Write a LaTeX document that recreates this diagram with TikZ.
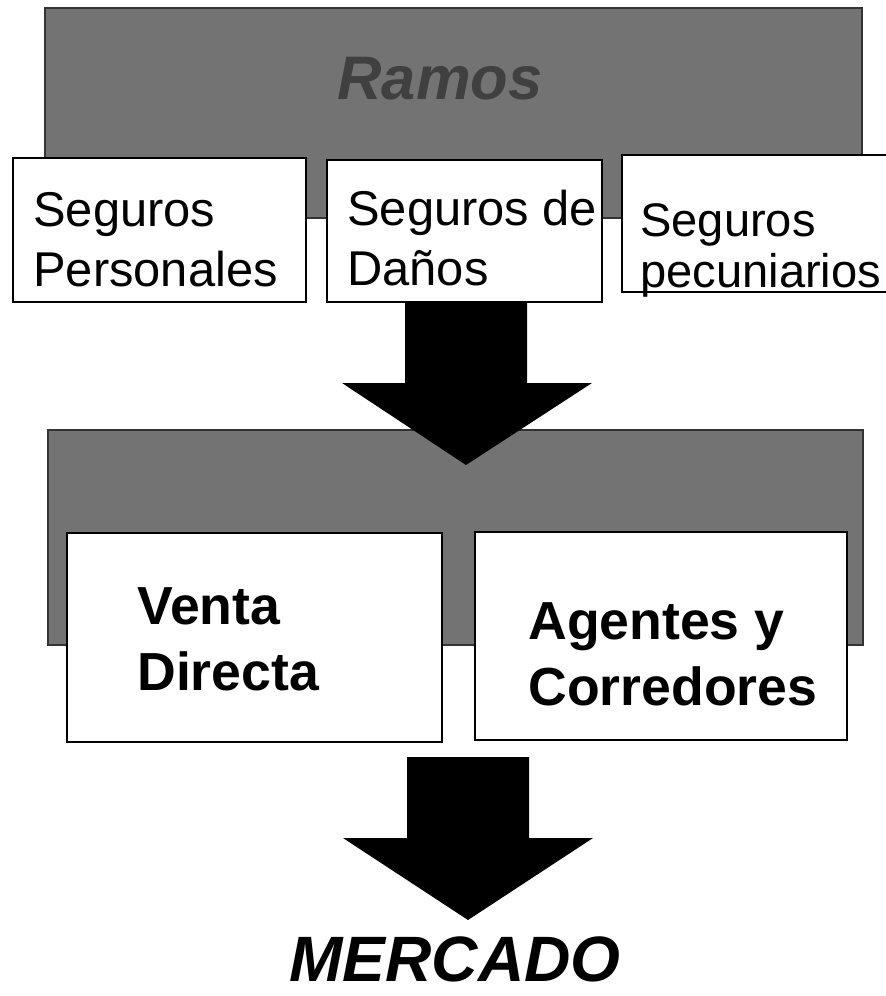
\documentclass[tikz,border=0pt]{standalone}
\usepackage{fontspec}
\setmainfont{Liberation Sans}
\usetikzlibrary{calc, fit}
\tikzstyle{banda} = [
    rectangle,
    inner sep=0pt,
    fill=black!55,
    draw=black!80,
    line width=1pt
]
\tikzstyle{caja} = [
    rectangle,
    inner sep=0pt,
    draw=black,
    fill=white,
    line width=1.3pt
]
\tikzstyle{ramo} = [
    inner sep=0pt,
    anchor=north west,
    align=left,
    font=\fontsize{27.8}{34}\selectfont
]
\tikzstyle{canal} = [
    inner sep=0pt,
    anchor=north west,
    align=left,
    font=\fontsize{30.5}{38}\selectfont\bfseries
]
\tikzstyle{titulo} = [
    inner sep=0pt,
    anchor=base,
    font=\bfseries\itshape
]
\tikzstyle{flecha} = [fill=black]

\begin{document}
\begin{tikzpicture}[x=0.02cm, y=-0.02cm]
    \useasboundingbox (0,0) rectangle (885,996);

    % ramos
    \node (banda1) [banda, fit={(45,8) (862,218)}] {};
    \node (personales) [caja, fit={(13,158) (306,302)}] {};
    \node (danos) [caja, fit={(327,160) (602,302)}] {};
    \node (pecuniarios) [caja, fit={(622,155) (905,292)}] {};

    % canales
    \node (banda2) [banda, fit={(48,430) (863,645)}] {};
    \node (venta) [caja, fit={(67,533) (442,742)}] {};
    \node (agentes) [caja, fit={(475,532) (847,740)}] {};

    % flechas
    \coordinate (f1) at (466,302);
    \coordinate (f2) at (468,757);
    \fill[flecha] ($(f1)+(-61,0)$) -- ($(f1)+(61,0)$) -- ($(f1)+(61,81)$)
        -- ($(f1)+(126,81)$) -- ($(f1)+(0,163)$) -- ($(f1)+(-124,81)$)
        -- ($(f1)+(-61,81)$) -- cycle;
    \fill[flecha] ($(f2)+(-61,0)$) -- ($(f2)+(61,0)$) -- ($(f2)+(61,81)$)
        -- ($(f2)+(125,81)$) -- ($(f2)+(0,163)$) -- ($(f2)+(-125,81)$)
        -- ($(f2)+(-61,81)$) -- cycle;

    % textos
    \node (ramos) [titulo, text=black!75, font=\fontsize{35}{40}\selectfont\bfseries\itshape]
        at (440,100) {Ramos};
    \node (personalest) [ramo] at (33,192) {Seguros\\Personales};
    \node (danost) [ramo] at (347,190) {Seguros de\\Daños};
    \node (pecuniariost) [ramo, font=\fontsize{26.8}{29}\selectfont] at (640,203)
        {Seguros\\pecuniarios};
    \node (ventat) [canal] at (137,587) {Venta\\Directa};
    \node (agentest) [canal] at (528,602) {Agentes y\\Corredores};
    \node (mercado) [titulo, font=\fontsize{36.5}{42}\selectfont\bfseries\itshape]
        at (455,981) {MERCADO};
\end{tikzpicture}
\end{document}
